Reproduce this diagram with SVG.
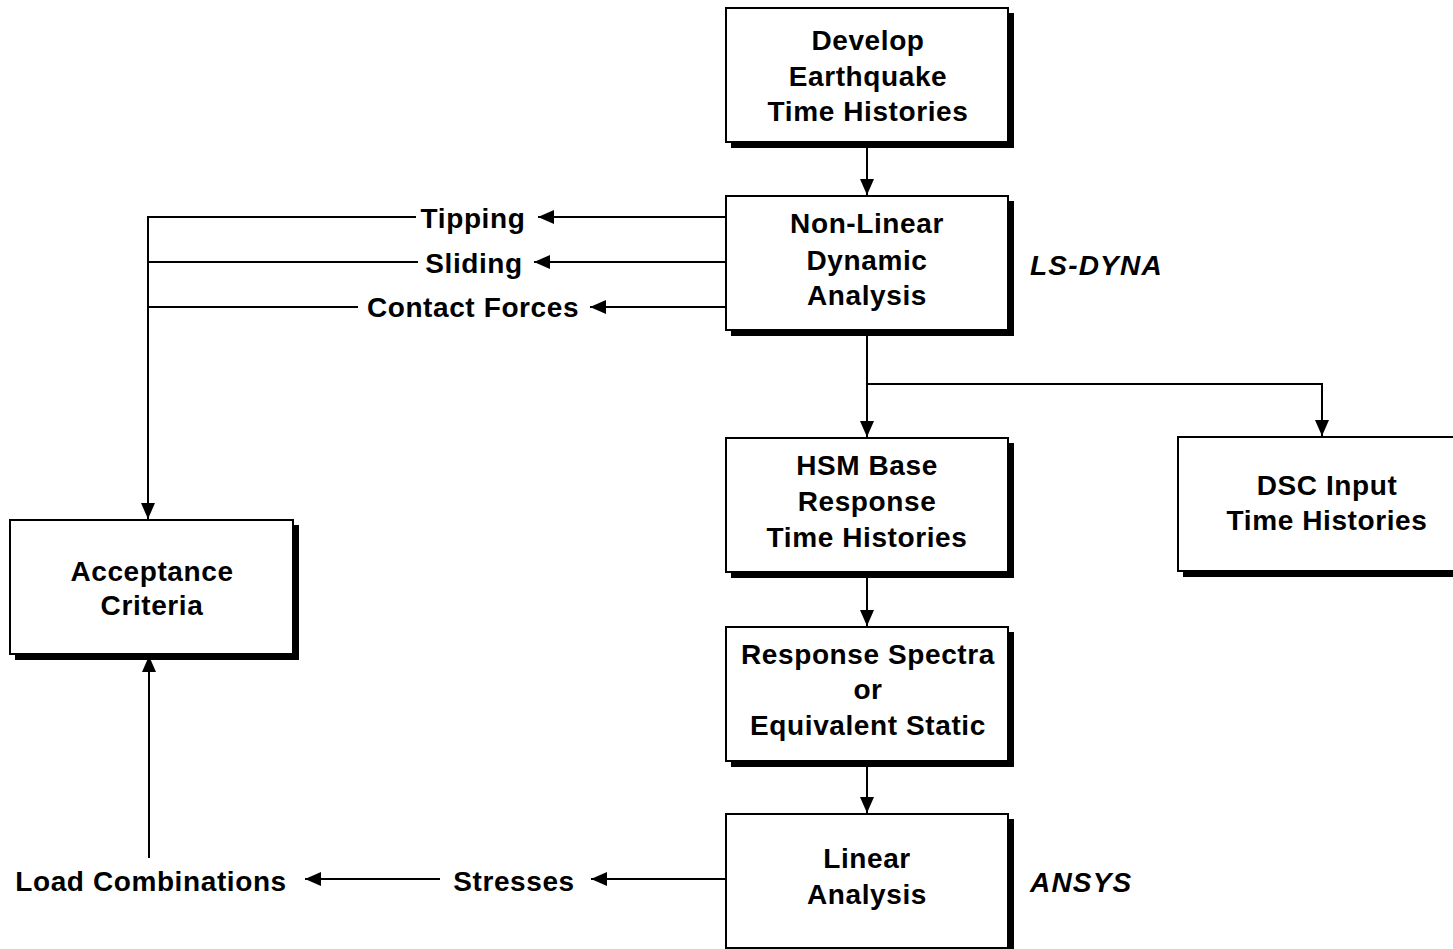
<svg xmlns="http://www.w3.org/2000/svg" width="1453" height="949" viewBox="0 0 1453 949">
<defs>
<style>
.box{fill:#fff;stroke:#000;stroke-width:2}
.sh{fill:#000}
.t{font-family:"Liberation Sans",Arial,sans-serif;font-weight:bold;font-size:28px;letter-spacing:0.6px;text-anchor:middle;fill:#000}
.lbl{font-family:"Liberation Sans",Arial,sans-serif;font-weight:bold;font-size:28px;letter-spacing:0.6px;fill:#000}
.it{font-family:"Liberation Sans",Arial,sans-serif;font-weight:bold;font-style:italic;font-size:28px;letter-spacing:1.2px;fill:#000}
.ln{fill:none;stroke:#000;stroke-width:2}
</style>
<marker id="ah" viewBox="0 0 16 14" refX="16" refY="7" markerWidth="16" markerHeight="14" markerUnits="userSpaceOnUse" orient="auto">
<path d="M0,0 L16,7 L0,14 Z" fill="#000"/>
</marker>
</defs>
<rect width="1453" height="949" fill="#fff"/>

<g id="connectors">
<line class="ln" x1="867" y1="144" x2="867" y2="195" marker-end="url(#ah)"/>
<line class="ln" x1="867" y1="332" x2="867" y2="437" marker-end="url(#ah)"/>
<polyline class="ln" points="867,384 1322,384 1322,436" marker-end="url(#ah)"/>
<line class="ln" x1="867" y1="575" x2="867" y2="626" marker-end="url(#ah)"/>
<line class="ln" x1="867" y1="765" x2="867" y2="813" marker-end="url(#ah)"/>
<line class="ln" x1="726" y1="217" x2="538" y2="217" marker-end="url(#ah)"/>
<line class="ln" x1="726" y1="262" x2="534" y2="262" marker-end="url(#ah)"/>
<line class="ln" x1="726" y1="307" x2="590" y2="307" marker-end="url(#ah)"/>
<line class="ln" x1="416" y1="217" x2="148" y2="217"/>
<line class="ln" x1="418" y1="262" x2="148" y2="262"/>
<line class="ln" x1="358" y1="307" x2="148" y2="307"/>
<line class="ln" x1="148" y1="216" x2="148" y2="519" marker-end="url(#ah)"/>
<line class="ln" x1="149" y1="858" x2="149" y2="656" marker-end="url(#ah)"/>
<line class="ln" x1="726" y1="879" x2="591" y2="879" marker-end="url(#ah)"/>
<line class="ln" x1="440" y1="879" x2="305" y2="879" marker-end="url(#ah)"/>
</g>

<g id="develop">
<rect class="sh" x="731" y="13" width="283" height="135"/>
<rect class="box" x="726" y="8" width="282" height="134"/>
<text class="t" x="868" y="50">Develop</text>
<text class="t" x="868" y="86">Earthquake</text>
<text class="t" x="868" y="121">Time Histories</text>
</g>

<g id="nonlinear">
<rect class="sh" x="731" y="201" width="283" height="135"/>
<rect class="box" x="726" y="196" width="282" height="134"/>
<text class="t" x="867" y="233">Non-Linear</text>
<text class="t" x="867" y="270">Dynamic</text>
<text class="t" x="867" y="305">Analysis</text>
</g>

<g id="lsdyna">
<text class="it" x="1030" y="275">LS-DYNA</text>
</g>

<g id="hsm">
<rect class="sh" x="731" y="443" width="283" height="135"/>
<rect class="box" x="726" y="438" width="282" height="134"/>
<text class="t" x="867" y="475">HSM Base</text>
<text class="t" x="867" y="511">Response</text>
<text class="t" x="867" y="547">Time Histories</text>
</g>

<g id="dsc">
<rect class="sh" x="1183" y="442" width="280" height="135"/>
<rect class="box" x="1178" y="437" width="285" height="134"/>
<text class="t" x="1327" y="495">DSC Input</text>
<text class="t" x="1327" y="530">Time Histories</text>
</g>

<g id="spectra">
<rect class="sh" x="731" y="632" width="283" height="135"/>
<rect class="box" x="726" y="627" width="282" height="134"/>
<text class="t" x="868" y="664">Response Spectra</text>
<text class="t" x="868" y="699">or</text>
<text class="t" x="868" y="735">Equivalent Static</text>
</g>

<g id="linear">
<rect class="sh" x="731" y="819" width="283" height="135"/>
<rect class="box" x="726" y="814" width="282" height="134"/>
<text class="t" x="867" y="868">Linear</text>
<text class="t" x="867" y="904">Analysis</text>
</g>

<g id="ansys">
<text class="it" x="1030" y="892">ANSYS</text>
</g>

<g id="acceptance">
<rect class="sh" x="15" y="525" width="284" height="135"/>
<rect class="box" x="10" y="520" width="283" height="134"/>
<text class="t" x="152" y="581">Acceptance</text>
<text class="t" x="152" y="615">Criteria</text>
</g>

<g id="tipping"><text class="lbl" x="473" y="228" text-anchor="middle">Tipping</text></g>
<g id="sliding"><text class="lbl" x="474" y="273" text-anchor="middle">Sliding</text></g>
<g id="contact"><text class="lbl" x="473" y="317" text-anchor="middle">Contact Forces</text></g>
<g id="stresses"><text class="lbl" x="514" y="891" text-anchor="middle">Stresses</text></g>
<g id="loadcomb"><text class="lbl" x="151" y="891" text-anchor="middle">Load Combinations</text></g>
</svg>
